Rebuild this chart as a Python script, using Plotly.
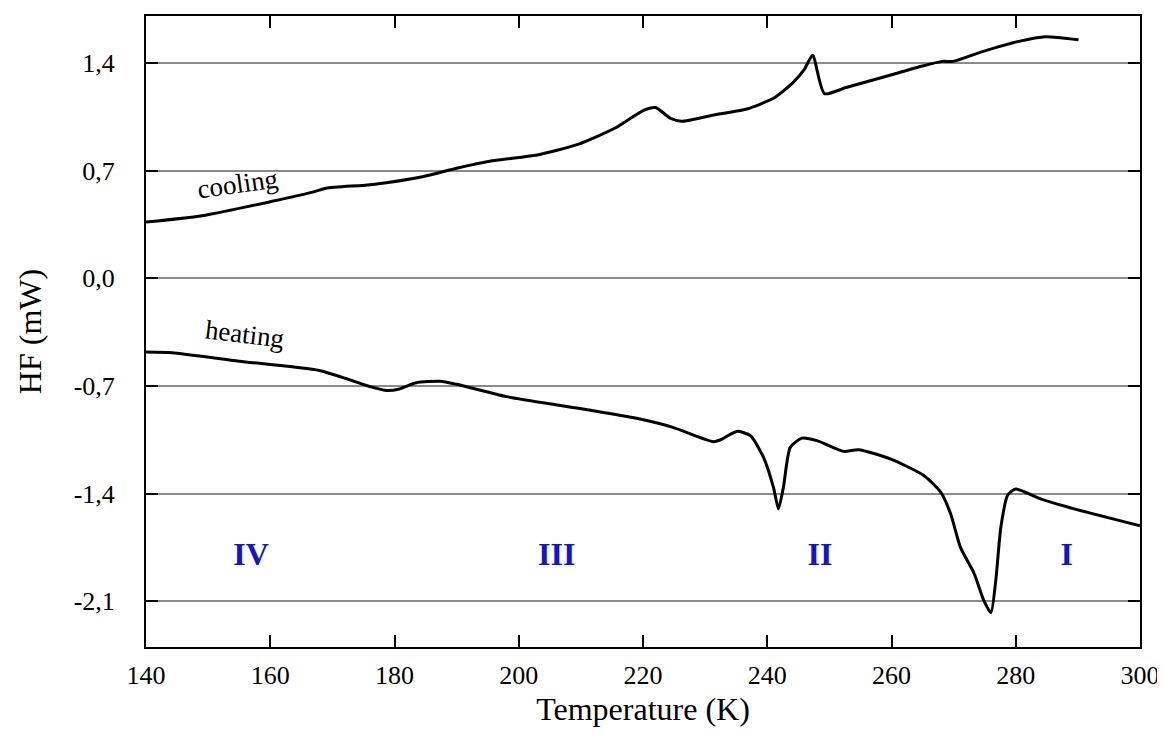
import plotly.graph_objects as go

# Cooling curve (T in K, HF in mW)
cool_T = [140, 149.6, 160.3, 166.8, 169, 176.5, 184.5, 190, 195.3, 203.4, 209.5, 215.7, 220, 222,
          224.4, 226.2, 231.2, 236.7, 241, 244.1, 246, 247.3, 249.2, 252.7, 258.9, 265, 268.2,
          269.9, 274.4, 280.5, 284.8, 290.1]
cool_HF = [0.365, 0.41, 0.50, 0.56, 0.585, 0.61, 0.66, 0.715, 0.76, 0.805, 0.87, 0.98, 1.09, 1.11,
           1.04, 1.02, 1.06, 1.10, 1.17, 1.27, 1.36, 1.45, 1.20, 1.24, 1.31, 1.38, 1.41,
           1.41, 1.47, 1.54, 1.57, 1.55]

# Heating curve
heat_T = [140, 144.2, 155, 167.9, 176.5, 178.7, 180.8, 183.5, 187.3, 190, 198, 208.7, 219.5,
          224.8, 231.3, 232.4, 235.1, 237.3, 239.4, 241.0, 241.8, 242.6, 243.7, 245.6, 248,
          252.3, 254.7, 259.8, 265.2, 267.9, 269.5, 271.1, 273.3, 274.8, 276.0, 276.8, 277.6,
          278.7, 280, 284, 289.4, 300]
heat_HF = [-0.48, -0.485, -0.54, -0.60, -0.71, -0.73, -0.72, -0.68, -0.67, -0.69, -0.77, -0.84, -0.916,
           -0.97, -1.063, -1.052, -0.996, -1.024, -1.165, -1.36, -1.50, -1.36, -1.10, -1.04, -1.056,
           -1.126, -1.115, -1.175, -1.283, -1.39, -1.53, -1.75, -1.92, -2.09, -2.175, -1.96, -1.62,
           -1.41, -1.37, -1.435, -1.50, -1.61]

phase_labels = ["IV", "III", "II", "I"]
phase_T = [156.9, 206.1, 248.5, 288.2]
phase_HF = [-1.815, -1.815, -1.815, -1.815]

x_ticks = [140, 160, 180, 200, 220, 240, 260, 280, 300]
y_ticks = [-2.1, -1.4, -0.7, 0.0, 0.7, 1.4]
y_ticktext = ["-2,1", "-1,4", "-0,7", "0,0", "0,7", "1,4"]

FONT = "Liberation Serif"

fig = go.Figure()
fig.add_trace(go.Scatter(x=cool_T, y=cool_HF, mode="lines",
                         line=dict(color="black", width=3, shape="spline", smoothing=0.6),
                         showlegend=False, hoverinfo="skip"))
fig.add_trace(go.Scatter(x=heat_T, y=heat_HF, mode="lines",
                         line=dict(color="black", width=3, shape="spline", smoothing=0.6),
                         showlegend=False, hoverinfo="skip"))
fig.add_trace(go.Scatter(x=phase_T, y=phase_HF, mode="text", text=phase_labels,
                         textfont=dict(family=FONT, size=32, color="#1414c8", weight="bold"),
                         showlegend=False, hoverinfo="skip"))

fig.add_annotation(x=154.7, y=0.615, text="cooling", showarrow=False, textangle=-8,
                   font=dict(family=FONT, size=27, color="black"))
fig.add_annotation(x=155.8, y=-0.36, text="heating", showarrow=False, textangle=7,
                   font=dict(family=FONT, size=27, color="black"))

axis_common = dict(showline=True, linecolor="black", linewidth=2, mirror="ticks",
                   ticks="inside", tickcolor="black", tickwidth=2, ticklen=12,
                   tickfont=dict(family=FONT, size=26, color="black"), zeroline=False)

fig.update_xaxes(range=[140, 300], tickvals=x_ticks, showgrid=False, ticklabelstandoff=4,
                 title=dict(text="Temperature (K)", font=dict(family=FONT, size=32, color="black"), standoff=8),
                 **axis_common)
fig.update_yaxes(range=[-2.398, 1.705], tickvals=y_ticks, ticktext=y_ticktext,
                 showgrid=True, gridcolor="#8a8a8a", gridwidth=2, ticklabelstandoff=24,
                 title=dict(text="HF (mW)", font=dict(family=FONT, size=32, color="black"), standoff=22),
                 **axis_common)

fig.update_layout(width=1165, height=736,
                  margin=dict(l=138, r=33, t=6, b=97),
                  plot_bgcolor="white", paper_bgcolor="white")

fig.write_html("out.html")
